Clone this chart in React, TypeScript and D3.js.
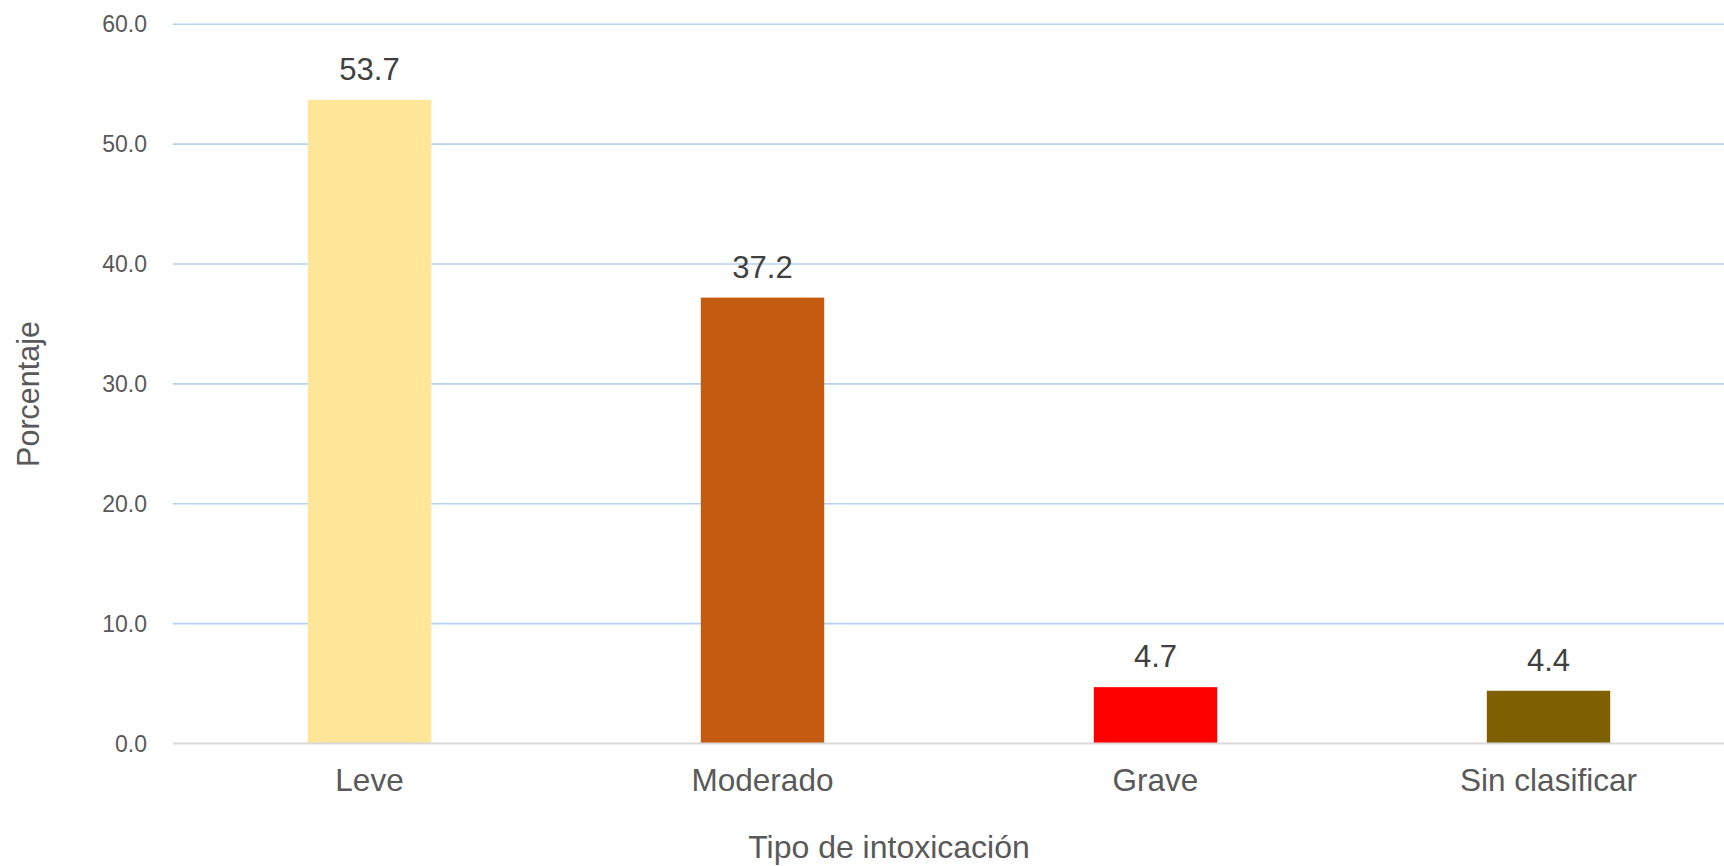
import React from "react";
import * as d3 from "d3";

const categories = ["Leve", "Moderado", "Grave", "Sin clasificar"];
const values = [53.7, 37.2, 4.7, 4.4];
const barColors = ["#FFE699", "#C55A11", "#FF0000", "#7F6000"];
const yTicks = [0, 10, 20, 30, 40, 50, 60];

const W = 1724;
const H = 866;
const FONT = "'Liberation Sans', Arial, sans-serif";

export default function App() {
  const x = d3
    .scaleBand<string>()
    .domain(categories)
    .range([173, 1745])
    .paddingInner(0.686)
    .paddingOuter(0.343);
  const y = d3.scaleLinear().domain([0, 60]).range([743.5, 24.3]);

  return (
    <svg
      width={W}
      height={H}
      style={{ position: "absolute", left: 0, top: 0, background: "#fff" }}
      fontFamily={FONT}
    >
      {yTicks.map((t) => (
        <g key={t}>
          {t !== 0 && (
            <line
              x1={173}
              x2={W}
              y1={y(t)}
              y2={y(t)}
              stroke="#B4D2EE"
              strokeWidth={1.6}
            />
          )}
          <text
            x={147}
            y={y(t)}
            dy="0.35em"
            textAnchor="end"
            fontSize={23}
            fill="#595959"
          >
            {d3.format(".1f")(t)}
          </text>
        </g>
      ))}
      {categories.map((c, i) => (
        <g key={c}>
          <rect
            x={x(c)}
            y={y(values[i])}
            width={x.bandwidth()}
            height={y(0) - y(values[i])}
            fill={barColors[i]}
          />
          <text
            x={(x(c) as number) + x.bandwidth() / 2}
            y={y(values[i]) - 20}
            textAnchor="middle"
            fontSize={31}
            fill="#404040"
          >
            {d3.format(".1f")(values[i])}
          </text>
          <text
            x={(x(c) as number) + x.bandwidth() / 2}
            y={791}
            textAnchor="middle"
            fontSize={31.5}
            fill="#595959"
          >
            {c}
          </text>
        </g>
      ))}
      <line
        x1={173}
        x2={W}
        y1={y(0)}
        y2={y(0)}
        stroke="#D9D9D9"
        strokeWidth={2}
      />
      <text
        x={889}
        y={858}
        textAnchor="middle"
        fontSize={32}
        fill="#595959"
      >
        Tipo de intoxicación
      </text>
      <text
        transform="translate(39,394) rotate(-90)"
        textAnchor="middle"
        fontSize={30.5}
        fill="#595959"
      >
        Porcentaje
      </text>
    </svg>
  );
}
